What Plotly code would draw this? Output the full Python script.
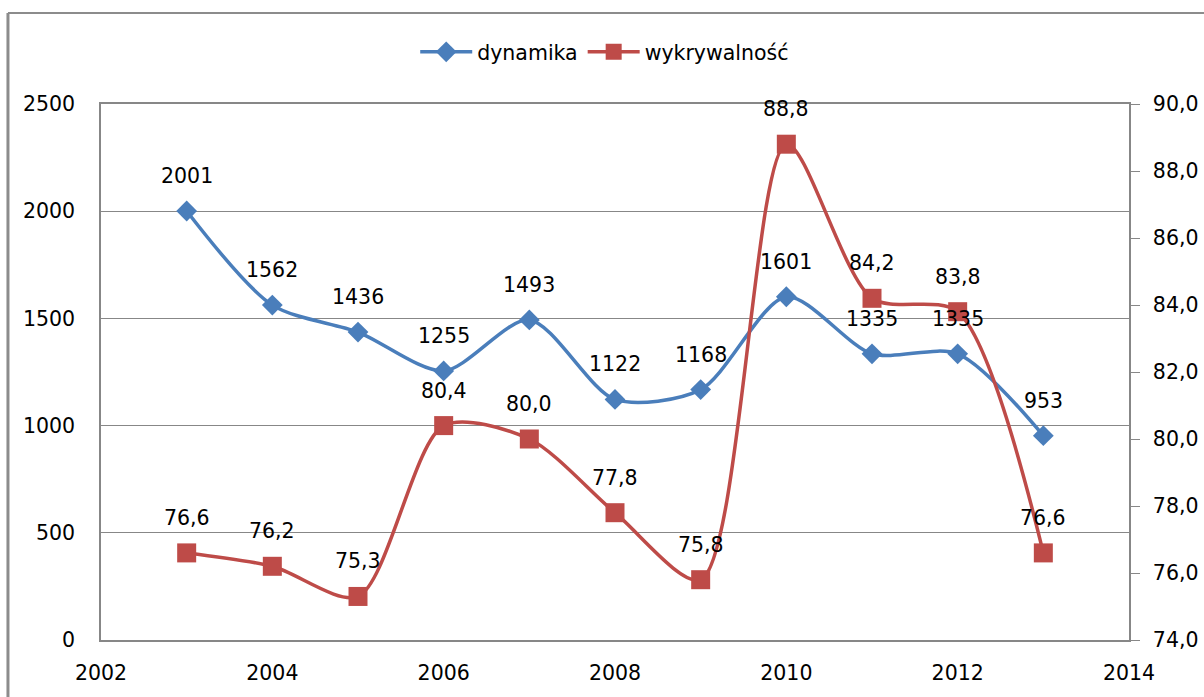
import plotly.graph_objects as go

years = [2003, 2004, 2005, 2006, 2007, 2008, 2009, 2010, 2011, 2012, 2013]
dynamika = [2001, 1562, 1436, 1255, 1493, 1122, 1168, 1601, 1335, 1335, 953]
wykrywalnosc = [76.6, 76.2, 75.3, 80.4, 80.0, 77.8, 75.8, 88.8, 84.2, 83.8, 76.6]

BLUE = "#4A7EBB"
RED = "#BE4B48"
GRID = "#878787"
FONT = "DejaVu Sans, Verdana, sans-serif"
FS = 20.5

fig = go.Figure()
fig.add_trace(go.Scatter(
    x=years, y=dynamika, name="dynamika", mode="lines+markers",
    line=dict(color=BLUE, width=3.5, shape="spline", smoothing=0.8),
    marker=dict(symbol="diamond", size=16, color=BLUE),
    yaxis="y"))
fig.add_trace(go.Scatter(
    x=years, y=wykrywalnosc, name="wykrywalność", mode="lines+markers",
    line=dict(color=RED, width=3.5, shape="spline", smoothing=0.8),
    marker=dict(symbol="square", size=19, color=RED),
    yaxis="y2"))

annotations = []
for x, v in zip(years, dynamika):
    annotations.append(dict(x=x, y=v, xref="x", yref="y", text=str(v),
                            showarrow=False, yshift=35,
                            font=dict(family=FONT, size=FS, color="#000")))
for x, v in zip(years, wykrywalnosc):
    annotations.append(dict(x=x, y=v, xref="x", yref="y2",
                            text=f"{v:.1f}".replace(".", ","),
                            showarrow=False, yshift=35,
                            font=dict(family=FONT, size=FS, color="#000")))

fig.update_layout(
    width=1204, height=697,
    margin=dict(l=101, r=75, t=104, b=57, autoexpand=False),
    paper_bgcolor="white", plot_bgcolor="white",
    separators=",.",
    font=dict(family=FONT, size=FS, color="#000"),
    showlegend=True,
    legend=dict(orientation="h", x=0.49, xanchor="center", y=1.097, yanchor="middle",
                font=dict(family=FONT, size=FS, color="#000"), itemwidth=52,
                bgcolor="rgba(0,0,0,0)"),
    xaxis=dict(range=[2002, 2014], dtick=2, tick0=2002, showgrid=False,
               showline=True, linecolor=GRID, linewidth=1.5, mirror=True,
               ticks="", zeroline=False, ticklabelstandoff=14, automargin=False,
               tickfont=dict(family=FONT, size=FS)),
    yaxis=dict(range=[0, 2500], dtick=500, showgrid=True, gridcolor=GRID, gridwidth=1.2,
               showline=True, linecolor=GRID, linewidth=1.5, ticks="",
               zeroline=False, ticklabelstandoff=20, automargin=False,
               tickfont=dict(family=FONT, size=FS)),
    yaxis2=dict(range=[74, 90], dtick=2, tickformat=".1f", overlaying="y", side="right",
                showgrid=False, showline=True, linecolor=GRID, linewidth=1.5,
                ticks="outside", ticklen=9, tickcolor=GRID, zeroline=False,
                ticklabelstandoff=9, automargin=False, tickfont=dict(family=FONT, size=FS)),
    annotations=annotations,
    shapes=[
        dict(type="line", xref="paper", yref="paper", x0=-0.0905, x1=1.1, y0=1.17, y1=1.17,
             line=dict(color="#8C8C8C", width=2)),
        dict(type="line", xref="paper", yref="paper", x0=-0.0905, x1=-0.0905, y0=1.17, y1=-0.2,
             line=dict(color="#8C8C8C", width=3)),
    ],
)

fig.write_html("out.html", config={"displayModeBar": False},
               post_script="document.body.style.margin='0';document.body.style.overflow='hidden';")
